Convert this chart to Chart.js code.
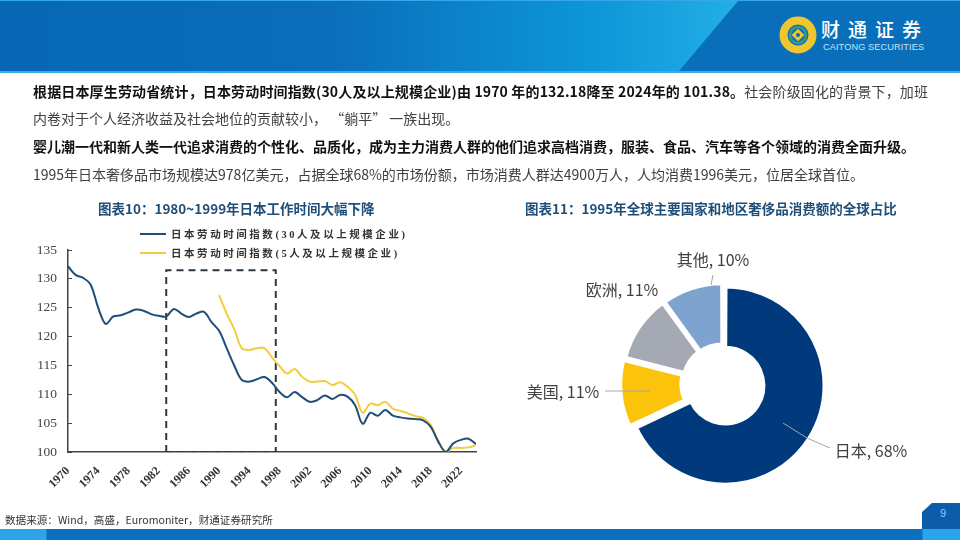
<!DOCTYPE html>
<html>
<head>
	<meta charset="utf-8">
	<title>日本劳动时间指数与奢侈品消费</title>
	<script src="https://cdn.jsdelivr.net/npm/chart.js"></script>
	<style type="text/css">
		html, body {
			margin: 0;
			padding: 0;
			background: #fff;
		}
		#page {
			position: relative;
			width: 960px;
			height: 540px;
			overflow: hidden;
			font-family: "Noto Sans CJK SC", sans-serif;
			filter: blur(0.35px);
		}
		#page > div, #page > canvas, #page > svg {
			position: absolute;
		}
		#head {
			left: 0; top: 0;
			width: 960px; height: 73px;
			background: #0a6fba;
			border-top: 1px solid #35a9e6;
			border-bottom: 2px solid #39ace8;
			box-sizing: border-box;
		}
		#headLight {
			left: 0; top: 1px;
			width: 738px; height: 70px;
			background: linear-gradient(90deg, #0767b4 0%, #0a6ebb 45%, #0d96d8 80%, #22aee6 100%);
			clip-path: polygon(0 0, 100% 0, 92% 100%, 0 100%);
		}
		#logoName {
			left: 821px; top: 17px;
			color: #fff;
			font-size: 19px;
			font-weight: 500;
			letter-spacing: 8px;
			line-height: 24px;
			white-space: nowrap;
		}
		#logoEn {
			left: 823px; top: 42px;
			color: #c9e2f4;
			font: 9.2px "Liberation Sans", sans-serif;
			letter-spacing: 0.1px;
			white-space: nowrap;
		}
		.line {
			left: 33px;
			font-size: 14px;
			line-height: 20px;
			color: #404040;
			white-space: nowrap;
		}
		.line b {
			color: #111;
			font-weight: 700;
		}
		.title {
			color: #1f4e79;
			font-size: 13.5px;
			font-weight: 700;
			line-height: 18px;
			white-space: nowrap;
		}
		.leg {
			left: 140px;
			font-family: "Liberation Serif", "Noto Sans CJK SC", serif;
			font-size: 10.5px;
			font-weight: 700;
			line-height: 14px;
			color: #333;
			letter-spacing: 2.55px;
			white-space: nowrap;
		}
		.leg i {
			display: inline-block;
			width: 26px; height: 2px;
			margin-right: 5px;
			vertical-align: 3px;
		}
		#source {
			left: 5px; top: 513px;
			font-size: 10.6px;
			line-height: 14px;
			color: #333;
			white-space: nowrap;
		}
		#footBar {
			left: 0; top: 529px;
			width: 960px; height: 11px;
			background: linear-gradient(90deg, #2ba4ea 0, #2ba4ea 46px, #0a6fbc 47px, #0a6fbc 922px, #2ba4ea 923px);
		}
		#pageTab {
			left: 922px; top: 503px;
			width: 38px; height: 26px;
			background: #0b5cab;
			clip-path: polygon(26% 0, 100% 0, 100% 100%, 0 100%, 0 35%);
			color: #9cc8ea;
			font: 11px/21px "Liberation Sans", sans-serif;
			text-indent: 18px;
		}
	</style>
</head>
<body>
	<div id="page">
		<div id="head"></div>
		<div id="headLight"></div>
		<svg style="left:778px;top:15px" width="40" height="40" viewBox="0 0 40 40">
			<circle cx="20" cy="20" r="14.5" fill="none" stroke="#f0c62e" stroke-width="8"/>
			<circle cx="20" cy="20" r="8" fill="none" stroke="#3f9a7a" stroke-width="2.5"/>
			<rect x="15.5" y="15.5" width="9" height="9" fill="#f0c62e" transform="rotate(45 20 20)"/>
			<circle cx="20" cy="20" r="2" fill="#0a69b4"/>
		</svg>
		<div id="logoName">财通证券</div>
		<div id="logoEn">CAITONG SECURITIES</div>

		<div class="line" style="top:81px;letter-spacing:0.15px"><b>根据日本厚生劳动省统计，日本劳动时间指数(30人及以上规模企业)由 1970 年的132.18降至 2024年的 101.38。</b>社会阶级固化的背景下，加班</div>
		<div class="line" style="top:108px">内卷对于个人经济收益及社会地位的贡献较小， “躺平” 一族出现。</div>
		<div class="line" style="top:136px"><b>婴儿潮一代和新人类一代追求消费的个性化、品质化，成为主力消费人群的他们追求高档消费，服装、食品、汽车等各个领域的消费全面升级。</b></div>
		<div class="line" style="top:164px">1995年日本奢侈品市场规模达978亿美元，占据全球68%的市场份额，市场消费人群达4900万人，人均消费1996美元，位居全球首位。</div>

		<div class="title" style="left:98px;top:199px">图表10：1980~1999年日本工作时间大幅下降</div>
		<div class="title" style="left:525px;top:199px">图表11：1995年全球主要国家和地区奢侈品消费额的全球占比</div>

		<canvas id="lineChart" width="460" height="275" style="left:20px;top:227px;width:460px;height:275px"></canvas>
		<canvas id="pieChart" width="420" height="270" style="left:513px;top:230px;width:420px;height:270px"></canvas>

		<div class="leg" style="top:228px"><i style="background:#1f4e79"></i>日本劳动时间指数(30人及以上规模企业)</div>
		<div class="leg" style="top:247px"><i style="background:#f2cd3c"></i>日本劳动时间指数(5人及以上规模企业)</div>

		<div id="source">数据来源：Wind，高盛，Euromoniter，财通证券研究所</div>
		<div id="pageTab">9</div>
		<div id="footBar"></div>
	</div>

	<script>
		// 图表10 数据
		var years = [1970,1971,1972,1973,1974,1975,1976,1977,1978,1979,1980,1981,1982,1983,1984,1985,1986,1987,1988,1989,1990,1991,1992,1993,1994,1995,1996,1997,1998,1999,2000,2001,2002,2003,2004,2005,2006,2007,2008,2009,2010,2011,2012,2013,2014,2015,2016,2017,2018,2019,2020,2021,2022,2023,2024];
		var index30 = [132.2,130.7,130.2,129,125,122.2,123.5,123.7,124.2,124.7,124.5,123.9,123.6,123.5,124.8,124,123.4,124,124.3,122.5,121,118,115,112.5,112.2,112.6,113,112,110.4,109.5,110.4,109.5,108.7,109,109.8,109.2,109.9,109.6,108.1,104.9,106.8,106.3,107.3,106.3,106,105.8,105.7,105.5,104.4,101.8,100,101.5,102.1,102.3,101.4];
		var index5 = [null,null,null,null,null,null,null,null,null,null,null,null,null,null,null,null,null,null,null,null,127.2,124,121.3,118,117.7,118,118,116.4,114.9,113.6,114.4,113,112.2,112.2,112.3,111.6,112.1,111.3,109.9,106.8,108.4,108.1,108.7,107.5,107.1,106.7,106.2,105.9,104.7,102,100,100.7,100.7,100.8,101.2];
		var boxYears = [1983,1983,1997.5,1997.5,1983];
		var boxValues = [100,131.5,131.5,100,100];
		var xTicks = [1970,1974,1978,1982,1986,1990,1994,1998,2002,2006,2010,2014,2018,2022];
		var yTicks = [100,105,110,115,120,125,130,135];

		// 图表11 数据
		var regions = ['日本','美国','欧洲','其他'];
		var shares = [68,11,11,10];
		var regionColors = ['#003a7d','#fbc40a','#a5a9b3','#7ea3cf'];

		function pairs(xs, ys) {
			return xs.map(function(x, i) { return {x: x, y: ys[i]}; });
		}

		function tickList(list) {
			return function(axis) {
				axis.ticks = list.map(function(v) { return {value: v}; });
			};
		}

		new Chart(document.getElementById('lineChart'), {
			type: 'line',
			data: {
				datasets: [
					{data: pairs(years, index30), borderColor: '#1f4e79', borderWidth: 2, pointRadius: 0, tension: 0.35},
					{data: pairs(years, index5), borderColor: '#f2cd3c', borderWidth: 2, pointRadius: 0, tension: 0.35},
					{data: pairs(boxYears, boxValues), borderColor: '#2b3a4a', borderWidth: 2, borderDash: [7, 5], pointRadius: 0, tension: 0}
				]
			},
			options: {
				responsive: false,
				animation: false,
				layout: {padding: {left: 0, right: 4, top: 0, bottom: 0}},
				plugins: {legend: {display: false}, tooltip: {enabled: false}},
				scales: {
					x: {
						type: 'linear',
						min: 1970,
						max: 2024,
						afterBuildTicks: tickList(xTicks),
						afterFit: function(axis) { axis.height = 50; },
						grid: {display: false},
						border: {color: '#444', width: 1.5},
						ticks: {
							autoSkip: false,
							maxRotation: 45,
							minRotation: 45,
							padding: 4,
							color: '#333',
							font: {family: '"Liberation Serif", serif', size: 12, weight: 'bold'},
							callback: function(v) { return String(v); }
						}
					},
					y: {
						min: 100,
						max: 135,
						afterBuildTicks: tickList(yTicks),
						afterFit: function(axis) { axis.width = 48; },
						grid: {drawOnChartArea: false, tickLength: -4, tickColor: '#444'},
						border: {color: '#444', width: 1.5},
						ticks: {
							padding: 15,
							color: '#444',
							font: {family: '"Liberation Serif", serif', size: 13.5}
						}
					}
				}
			}
		});

		// 标签位置相对圆心
		var labelSpots = [
			{dx: 148, dy: 67, line: [[60, 39], [84, 54], [107, 64]]},
			{dx: -160, dy: 8, line: [[-118, 7], [-73, 7]]},
			{dx: -101, dy: -94},
			{dx: -10, dy: -124, line: [[-10, -109], [-12, -99]]}
		];

		var outsideLabels = {
			id: 'outsideLabels',
			afterDatasetsDraw: function(chart) {
				var ctx = chart.ctx;
				var arc = chart.getDatasetMeta(0).data[0];
				var cx = arc.x, cy = arc.y;
				ctx.save();
				ctx.font = '16px "Noto Sans CJK SC", sans-serif';
				ctx.textAlign = 'center';
				ctx.textBaseline = 'middle';
				regions.forEach(function(name, i) {
					var s = labelSpots[i];
					if (s.line) {
						ctx.beginPath();
						s.line.forEach(function(p, k) {
							if (k === 0) ctx.moveTo(cx + p[0], cy + p[1]);
							else ctx.lineTo(cx + p[0], cy + p[1]);
						});
						ctx.strokeStyle = '#a6a6a6';
						ctx.lineWidth = 1;
						ctx.stroke();
					}
					ctx.fillStyle = '#404040';
					ctx.fillText(name + ', ' + shares[i] + '%', cx + s.dx, cy + s.dy);
				});
				ctx.restore();
			}
		};

		new Chart(document.getElementById('pieChart'), {
			type: 'doughnut',
			data: {
				labels: regions,
				datasets: [{
					data: shares,
					backgroundColor: regionColors,
					borderColor: '#fff',
					borderWidth: 3,
					offset: [12, 20, 16, 14]
				}]
			},
			options: {
				responsive: false,
				animation: false,
				cutout: '37%',
				layout: {padding: {top: 47, bottom: 9, left: 0, right: 0}},
				plugins: {legend: {display: false}, tooltip: {enabled: false}}
			},
			plugins: [outsideLabels]
		});
	</script>
</body>
</html>
